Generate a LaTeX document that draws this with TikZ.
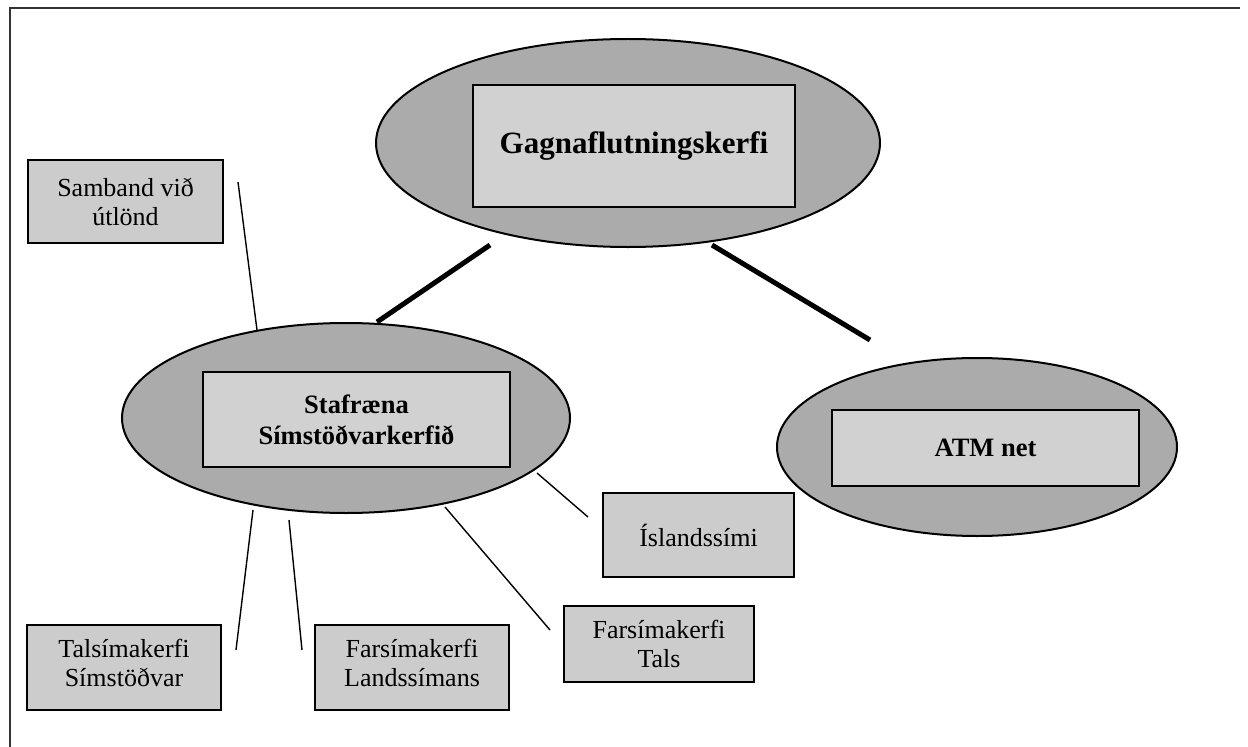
\documentclass[tikz,border=0pt]{standalone}
\usepackage{fontspec}
\setmainfont{Liberation Serif}
\usetikzlibrary{shapes.geometric}
\begin{document}
\begin{tikzpicture}[x=1bp,y=-1bp,
  oval/.style={ellipse,draw=black,line width=2bp,fill=black!33,inner sep=0pt},
  inbox/.style={rectangle,draw=black,line width=1.5bp,fill=black!18,inner sep=0pt,align=center,font=\fontsize{26.5bp}{31bp}\selectfont\bfseries},
  smallbox/.style={rectangle,draw=black,line width=1.4bp,fill=black!20,inner sep=0pt,align=center,font=\fontsize{26bp}{29bp}\selectfont},
  thickline/.style={line width=5bp},
  thinline/.style={line width=1.4bp}]
\useasboundingbox (0,0) rectangle (1248,747);
% frame
\draw[line width=1.2bp,black!80] (10,747) -- (10,8) -- (1240,8);
% ellipses
\node[oval,minimum width=504bp,minimum height=208bp] (gagn) at (628,143) {};
\node[oval,minimum width=448bp,minimum height=190bp] (staf) at (346,418) {};
\node[oval,minimum width=400bp,minimum height=178bp] (atm) at (977,447) {};
% inner rectangles
\node[inbox,minimum width=322bp,minimum height=122bp,font=\fontsize{31bp}{34bp}\selectfont\bfseries] (gagnbox) at (634,146) {Gagnaflutningskerfi};
\node[inbox,minimum width=307bp,minimum height=95bp] (stafbox) at (356.5,419.5) {Stafræna\\Símstöðvarkerfið};
\node[inbox,minimum width=307bp,minimum height=76bp] (atmbox) at (985.5,448) {ATM net};
% small boxes
\node[smallbox,minimum width=195bp,minimum height=83bp] (samband) at (125.5,201.5) {Samband við\\útlönd};
\node[smallbox,minimum width=194bp,minimum height=85bp] (talsimi) at (124,667.5) {Talsímakerfi\\Símstöðvar\strut};
\node[smallbox,minimum width=194bp,minimum height=85bp] (landss) at (412,667.5) {Farsímakerfi\\Landssímans\strut};
\node[smallbox,minimum width=190bp,minimum height=76bp] (tals) at (659,644) {Farsímakerfi\\Tals};
\node[smallbox,minimum width=191bp,minimum height=84bp] (isl) at (698.5,535) {Íslandssími};
% connector end points
\coordinate (g1) at (490,245);
\coordinate (s1) at (377,322);
\coordinate (g2) at (712,245);
\coordinate (a1) at (870,340);
\coordinate (sb1) at (238,182);
\coordinate (sb2) at (257,330);
\coordinate (t1) at (253,510);
\coordinate (t2) at (236,650);
\coordinate (l1) at (289,520);
\coordinate (l2) at (302,650);
\coordinate (f1) at (445,507);
\coordinate (f2) at (550,630);
\coordinate (i1) at (537,473);
\coordinate (i2) at (588,517);
% connectors
\draw[thickline] (g1) -- (s1);
\draw[thickline] (g2) -- (a1);
\draw[thinline] (sb1) -- (sb2);
\draw[thinline] (t1) -- (t2);
\draw[thinline] (l1) -- (l2);
\draw[thinline] (f1) -- (f2);
\draw[thinline] (i1) -- (i2);
\end{tikzpicture}
\end{document}
